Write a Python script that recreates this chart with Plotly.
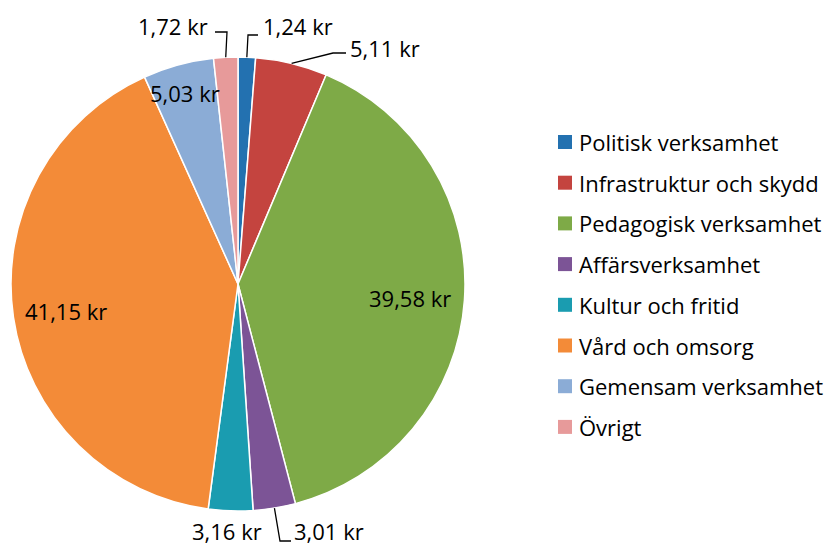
import math
import plotly.graph_objects as go

categories = ["Politisk verksamhet", "Infrastruktur och skydd", "Pedagogisk verksamhet",
              "Affärsverksamhet", "Kultur och fritid", "Vård och omsorg",
              "Gemensam verksamhet", "Övrigt"]
values = [1.24, 5.11, 39.58, 3.01, 3.16, 41.15, 5.03, 1.72]
value_labels = ["1,24 kr", "5,11 kr", "39,58 kr", "3,01 kr", "3,16 kr", "41,15 kr", "5,03 kr", "1,72 kr"]
colors = ["#2371B0", "#C4443F", "#7EAA47", "#7C5496", "#1A9CB0", "#F38B38", "#8BACD6", "#E79A9A"]

W, H = 826, 547
FONT = "Open Sans"
FS = 22
CX, CY, R = 238, 284, 227


def px(x):
    return x / W


def py(y):
    return 1 - y / H


fig = go.Figure(go.Pie(
    labels=categories, values=values, sort=False, direction="clockwise", rotation=0,
    marker=dict(colors=colors, line=dict(color="white", width=1.5)),
    textinfo="none", hoverinfo="label+value", showlegend=False,
    domain=dict(x=[px(CX - R), px(CX + R)], y=[py(CY + R), py(CY - R)]),
))

total = sum(values)
cum = 0
mids = []
for v in values:
    mids.append((cum + v / 2) / total * 2 * math.pi)
    cum += v


def polar(angle, frac):
    return CX + frac * R * math.sin(angle), CY - frac * R * math.cos(angle)


annotations = []
shapes = []

# inside labels (radius fraction per slice)
inside = {2: 0.76, 5: 0.765, 6: 0.88}
for i, f in inside.items():
    x, y = polar(mids[i], f)
    annotations.append(dict(x=px(x), y=py(y + 2), xref="paper", yref="paper", text=value_labels[i],
                            showarrow=False, font=dict(family=FONT, size=FS, color="black"),
                            xanchor="center", yanchor="middle"))

# outside labels: label position (pixels) and leader path corners
outside = {
    0: dict(pos=(261, 26), anchor="left", path=[(248, 35), (258, 35)]),
    1: dict(pos=(348, 48), anchor="left", path=[(333, 53), (346, 53)]),
    3: dict(pos=(292, 531), anchor="left", path=[(280, 541), (291, 541)]),
    4: dict(pos=(264, 531), anchor="right", path=None),
    7: dict(pos=(210, 26), anchor="right", path=[(227, 32), (215, 32)]),
}
for i, o in outside.items():
    x, y = o["pos"]
    annotations.append(dict(x=px(x), y=py(y), xref="paper", yref="paper", text=value_labels[i],
                            showarrow=False, font=dict(family=FONT, size=FS, color="black"),
                            xanchor=o["anchor"], yanchor="middle"))
    if o["path"]:
        sx, sy = polar(mids[i], 1.0)
        pts = [(sx, sy)] + o["path"]
        d = "M " + " L ".join(f"{px(a)},{py(b)}" for a, b in pts)
        shapes.append(dict(type="path", path=d, xref="paper", yref="paper",
                           line=dict(color="black", width=1.3)))

# legend
leg_x, leg_y0, leg_dy = 558, 142, 40.7
for i, (c, name) in enumerate(zip(colors, categories)):
    yy = leg_y0 + i * leg_dy
    shapes.append(dict(type="rect", xref="paper", yref="paper",
                       x0=px(leg_x), x1=px(leg_x + 14), y0=py(yy + 7), y1=py(yy - 7),
                       fillcolor=c, line=dict(width=0)))
    annotations.append(dict(x=px(leg_x + 19), y=py(yy), xref="paper", yref="paper", text=name,
                            showarrow=False, font=dict(family=FONT, size=FS, color="black"),
                            xanchor="left", yanchor="middle"))

fig.update_layout(
    width=W, height=H, margin=dict(l=0, r=0, t=0, b=0),
    paper_bgcolor="white", plot_bgcolor="white",
    annotations=annotations, shapes=shapes,
)
fig.write_html("out.html", config={"displayModeBar": False},
               post_script="document.body.style.margin='0';")
